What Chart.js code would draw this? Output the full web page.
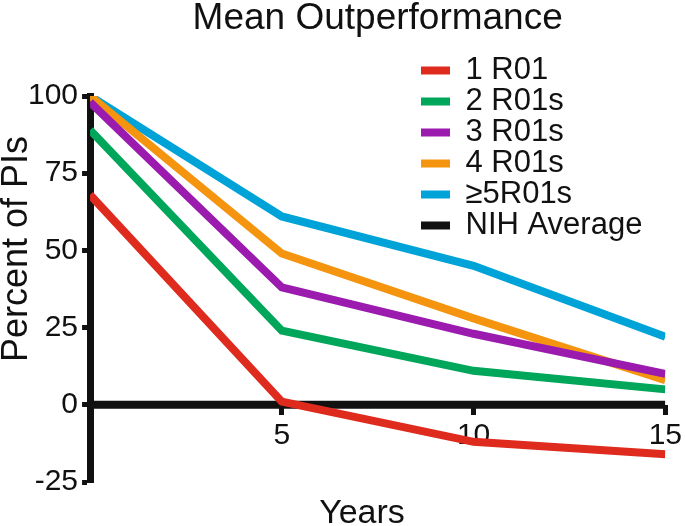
<!DOCTYPE html>
<html>
<head>
<meta charset="utf-8">
<script src="https://cdn.jsdelivr.net/npm/chart.js@4/dist/chart.umd.min.js"></script>
<style>
  html, body { margin: 0; padding: 0; background: #fff; }
  #wrap { width: 685px; height: 526px; }
</style>
</head>
<body>
<div id="wrap"><canvas id="line-chart"></canvas></div>
<script>
// values (percent of PIs by years)
const years = [0, 5, 10, 15];
const oneR01 = [68, 1, -12, -16];
const twoR01s = [89, 24, 11, 5];
const threeR01s = [98, 38, 23, 10];
const fourR01s = [100, 49, 28, 8];
const fivePlusR01s = [100, 61, 45, 22];
const nihAverage = [0, 0, 0, 0];
const yTicks = [-25, 0, 25, 50, 75, 100];

const FONT = "'Liberation Sans', Arial, sans-serif";
const INK = '#111111';

function pts(values) {
    return years.map(function(y, i) { return { x: y, y: values[i] }; });
}

function series(label, values, color) {
    return {
        label: label,
        data: pts(values),
        borderColor: color,
        backgroundColor: color,
        borderWidth: 8,
        pointRadius: 0,
        tension: 0
    };
}

// axis titles and legend placement
const extras = {
    id: 'extras',
    afterLayout: function(chart) {
        const lg = chart.legend;
        if (!lg) return;
        const w = lg.width, h = lg.height;
        lg.left = 421;
        lg.top = 55;
        lg.right = lg.left + w;
        lg.bottom = lg.top + h;
    },
    afterDraw: function(chart) {
        const ctx = chart.ctx;
        ctx.save();
        ctx.fillStyle = INK;
        ctx.font = '34px ' + FONT;
        ctx.textAlign = 'center';
        ctx.textBaseline = 'alphabetic';
        ctx.fillText('Years', 362, 523);
        ctx.translate(27, 249);
        ctx.rotate(-Math.PI / 2);
        ctx.font = '36px ' + FONT;
        ctx.fillText('Percent of PIs', 0, 0);
        ctx.restore();
    }
};

document.addEventListener('DOMContentLoaded', function() {
    const ctx = document.getElementById('line-chart').getContext('2d');
    new Chart(ctx, {
        type: 'line',
        data: {
            datasets: [
                series('1 R01', oneR01, '#DF2A1E'),
                series('2 R01s', twoR01s, '#00A65A'),
                series('3 R01s', threeR01s, '#9A1BAE'),
                series('4 R01s', fourR01s, '#F5940F'),
                series('\u22655R01s', fivePlusR01s, '#00A3D7'),
                series('NIH Average', nihAverage, INK)
            ]
        },
        options: {
            responsive: true,
            maintainAspectRatio: false,
            animation: false,
            layout: {
                padding: { left: 24, right: 0, top: 0, bottom: 44 }
            },
            scales: {
                x: {
                    type: 'linear',
                    min: 0,
                    max: 15,
                    position: { y: 0 },
                    border: { display: false },
                    grid: {
                        display: true,
                        drawOnChartArea: false,
                        drawTicks: true,
                        tickLength: 10,
                        tickWidth: 5,
                        tickColor: INK
                    },
                    ticks: {
                        stepSize: 5,
                        padding: 3,
                        color: INK,
                        font: { family: FONT, size: 30 },
                        callback: function(v) { return v === 0 ? '' : v; }
                    }
                },
                y: {
                    min: -25,
                    max: 100,
                    border: { display: true, color: INK, width: 7 },
                    grid: {
                        display: true,
                        drawOnChartArea: false,
                        drawTicks: true,
                        tickLength: 8,
                        tickWidth: 5,
                        tickColor: INK
                    },
                    afterBuildTicks: function(axis) {
                        axis.ticks = yTicks.map(function(v) { return { value: v }; });
                    },
                    ticks: {
                        padding: 4,
                        color: INK,
                        font: { family: FONT, size: 30 }
                    }
                }
            },
            plugins: {
                title: {
                    display: true,
                    text: 'Mean Outperformance',
                    fullSize: false,
                    color: INK,
                    font: { family: FONT, size: 37, weight: 'normal', lineHeight: 1 },
                    padding: { top: 0, bottom: 59 }
                },
                legend: {
                    position: 'chartArea',
                    align: 'start',
                    labels: {
                        boxWidth: 29,
                        boxHeight: 8,
                        padding: 0,
                        color: INK,
                        font: { family: FONT, size: 31 },
                        generateLabels: function(chart) {
                            const items = Chart.defaults.plugins.legend.labels.generateLabels(chart);
                            items.forEach(function(it) { it.lineWidth = 0; });
                            return items;
                        }
                    }
                },
                tooltip: { enabled: false }
            }
        },
        plugins: [extras]
    });
});
</script>
</body>
</html>
